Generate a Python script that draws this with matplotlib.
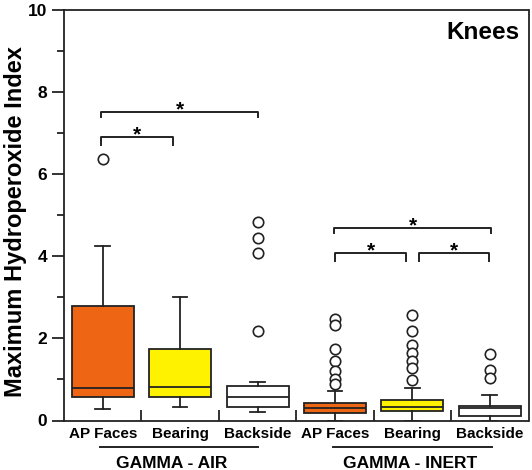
import numpy as np
import matplotlib
matplotlib.use('Agg')
import matplotlib.pyplot as plt
import matplotlib.transforms as mtransforms

plt.rcParams['font.family'] = ['Liberation Sans', 'DejaVu Sans']
plt.rcParams['font.weight'] = 'bold'

# box statistics
labels = ['AP Faces', 'Bearing', 'Backside', 'AP Faces', 'Bearing', 'Backside']
q1 = [0.58, 0.58, 0.34, 0.19, 0.24, 0.12]
med = [0.78, 0.82, 0.58, 0.31, 0.32, 0.30]
q3 = [2.78, 1.74, 0.85, 0.43, 0.49, 0.36]
whislo = [0.28, 0.33, 0.21, 0.0, 0.0, 0.0]
whishi = [4.24, 3.01, 0.94, 0.73, 0.79, 0.63]
fliers = [
    [6.38],
    [],
    [4.83, 4.45, 4.09, 2.18],
    [2.48, 2.32, 1.73, 1.45, 1.21, 1.00, 0.88],
    [2.56, 2.18, 1.84, 1.64, 1.46, 1.28, 0.99],
    [1.62, 1.23, 1.03],
]
colors = ['#EE6513', '#FFF200', '#FFFFFF', '#EE6513', '#FFF200', '#FFFFFF']

groups = ['GAMMA - AIR', 'GAMMA - INERT']

# significance brackets: x start, x end, bar height, tip height
sig_x1 = [0.98, 0.98, 3.99, 4.00, 5.09]
sig_x2 = [1.91, 3.01, 6.02, 4.92, 5.99]
sig_y = [6.91, 7.52, 4.69, 4.09, 4.09]
sig_tip = [6.72, 7.39, 4.57, 3.89, 3.89]

fig = plt.figure(figsize=(5.32, 4.70), dpi=100)
ax = fig.add_axes([64 / 532, 1 - 420.5 / 470, 464.5 / 532, 410.5 / 470])

positions = np.arange(1, len(labels) + 1)
stats = []
for i in range(len(labels)):
    stats.append({'q1': q1[i], 'med': med[i], 'q3': q3[i],
                  'whislo': whislo[i], 'whishi': whishi[i],
                  'fliers': fliers[i], 'label': labels[i]})

lc = '#222222'
bp = ax.bxp(stats, positions=positions, widths=0.8, patch_artist=True,
            capwidths=0.19,
            boxprops=dict(edgecolor=lc, linewidth=1.3),
            medianprops=dict(color=lc, linewidth=1.3),
            whiskerprops=dict(color=lc, linewidth=1.3),
            capprops=dict(color=lc, linewidth=1.3),
            flierprops=dict(marker='o', markersize=7.5, markerfacecolor='white',
                            markeredgecolor=lc, markeredgewidth=1.2))
for patch, c in zip(bp['boxes'], colors):
    patch.set_facecolor(c)

ax.set_xlim(0.5, 6.5)
ax.set_ylim(0, 10)
ax.set_yticks([0, 2, 4, 6, 8, 10])
ax.set_yticks([1, 3, 5, 7, 9], minor=True)
ax.set_xticks(positions)
ax.set_xticklabels(labels, fontsize=11, fontweight='bold')
ax.set_xticks(positions[:-1] + 0.5, minor=True)
ax.tick_params(axis='x', which='major', length=0, pad=5)
ax.tick_params(axis='x', which='minor', direction='in', length=8, width=1.3,
               color=lc)
ax.tick_params(axis='y', which='major', length=9, width=1.3, pad=3,
               labelsize=12.5, color=lc)
ax.tick_params(axis='y', which='minor', length=5, width=1.3, color=lc)
for lab in ax.get_yticklabels():
    lab.set_fontweight('bold')
for sp in ax.spines.values():
    sp.set_linewidth(1.3)
    sp.set_color(lc)

ax.set_ylabel('Maximum Hydroperoxide Index', fontsize=17, fontweight='bold')
ax.yaxis.set_label_coords(-0.08, 0.485)

ax.text(0.9817, 0.929, 'Knees', transform=ax.transAxes, ha='right',
        va='baseline', fontsize=17.5, fontweight='bold')

for x1, x2, y, t in zip(sig_x1, sig_x2, sig_y, sig_tip):
    ax.plot([x1, x1, x2, x2], [t, y, y, t], color=lc, linewidth=1.4)
    ax.text((x1 + x2) / 2, y - 0.18, '*', ha='center', va='bottom',
            fontsize=15, fontweight='bold')

# group labels below the category names
trans = mtransforms.blended_transform_factory(ax.transData, ax.transAxes)
group_x1 = [0.96, 3.97]
group_x2 = [3.00, 6.03]
group_tx = [1.89, 4.97]
for g, a, b, tx in zip(groups, group_x1, group_x2, group_tx):
    ax.plot([a, b], [-0.0646, -0.0646], transform=trans, color=lc,
            linewidth=1.4, clip_on=False)
    ax.text(tx, -0.1157, g, transform=trans, ha='center', va='baseline',
            fontsize=12.5, fontweight='bold')

fig.savefig('out.png', dpi=100)
